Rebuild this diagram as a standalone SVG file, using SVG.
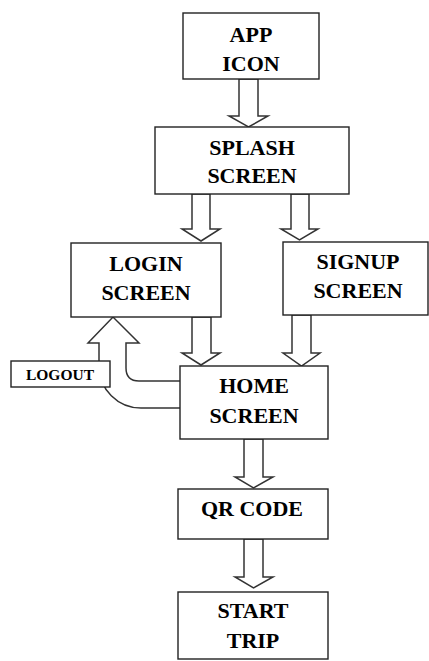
<svg xmlns="http://www.w3.org/2000/svg" width="429" height="661" viewBox="0 0 429 661">
<style>
.box{fill:#fff;stroke:#222;stroke-width:1.4}
.t{font-family:"Liberation Serif","Times New Roman",serif;font-weight:bold;font-size:22px;text-anchor:middle;fill:#000}
.s{font-size:15.5px}
.arr{fill:#fff;stroke:#333;stroke-width:1.5;stroke-linejoin:miter}
</style>
<rect width="429" height="661" fill="#fff"/>
<g id="connectors">
<polygon class="arr" points="239,79 258,79 258,116 268,116 248.5,127 229,116 239,116"/>
<polygon class="arr" points="192,194 210,194 210,229 220,229 201,241 182,229 192,229"/>
<polygon class="arr" points="291,194 309,194 309,229 318,229 299.5,240 281,229 291,229"/>
<polygon class="arr" points="192,317 211,317 211,353 220,353 201,365 182,353 192,353"/>
<polygon class="arr" points="292,315 311,315 311,353 320,353 301.5,366 283,353 292,353"/>
<polygon class="arr" points="244,439 263,439 263,477 273,477 253.5,488 235,477 244,477"/>
<polygon class="arr" points="244,539 263,539 263,577 273,577 253.5,588 235,577 244,577"/>
<path class="arr" d="M180 381 L139 381 Q126 381 126 368 L126 343 L139 343 L113 317 L88 343 L99 343 L99 366 A42 42 0 0 0 141 408 L180 408"/>
</g>
<g id="app-icon"><rect class="box" x="183" y="13" width="136" height="66"/><text class="t" x="251" y="42">APP</text><text class="t" x="251" y="71">ICON</text></g>
<g id="splash"><rect class="box" x="155" y="127" width="194" height="67"/><text class="t" x="252" y="155">SPLASH</text><text class="t" x="252" y="183">SCREEN</text></g>
<g id="login"><rect class="box" x="71" y="243" width="150" height="74"/><text class="t" x="146" y="271">LOGIN</text><text class="t" x="146" y="300">SCREEN</text></g>
<g id="signup"><rect class="box" x="283" y="242" width="145" height="73"/><text class="t" x="358" y="269">SIGNUP</text><text class="t" x="358" y="298">SCREEN</text></g>
<g id="logout"><rect class="box" x="11" y="361" width="99" height="26"/><text class="t s" x="60" y="380">LOGOUT</text></g>
<g id="home"><rect class="box" x="180" y="366" width="148" height="73"/><text class="t" x="254" y="393">HOME</text><text class="t" x="254" y="423">SCREEN</text></g>
<g id="qr"><rect class="box" x="178" y="489" width="150" height="50"/><text class="t" x="252" y="516">QR CODE</text></g>
<g id="start"><rect class="box" x="178" y="592" width="150" height="67"/><text class="t" x="253" y="618">START</text><text class="t" x="253" y="648">TRIP</text></g>
</svg>
